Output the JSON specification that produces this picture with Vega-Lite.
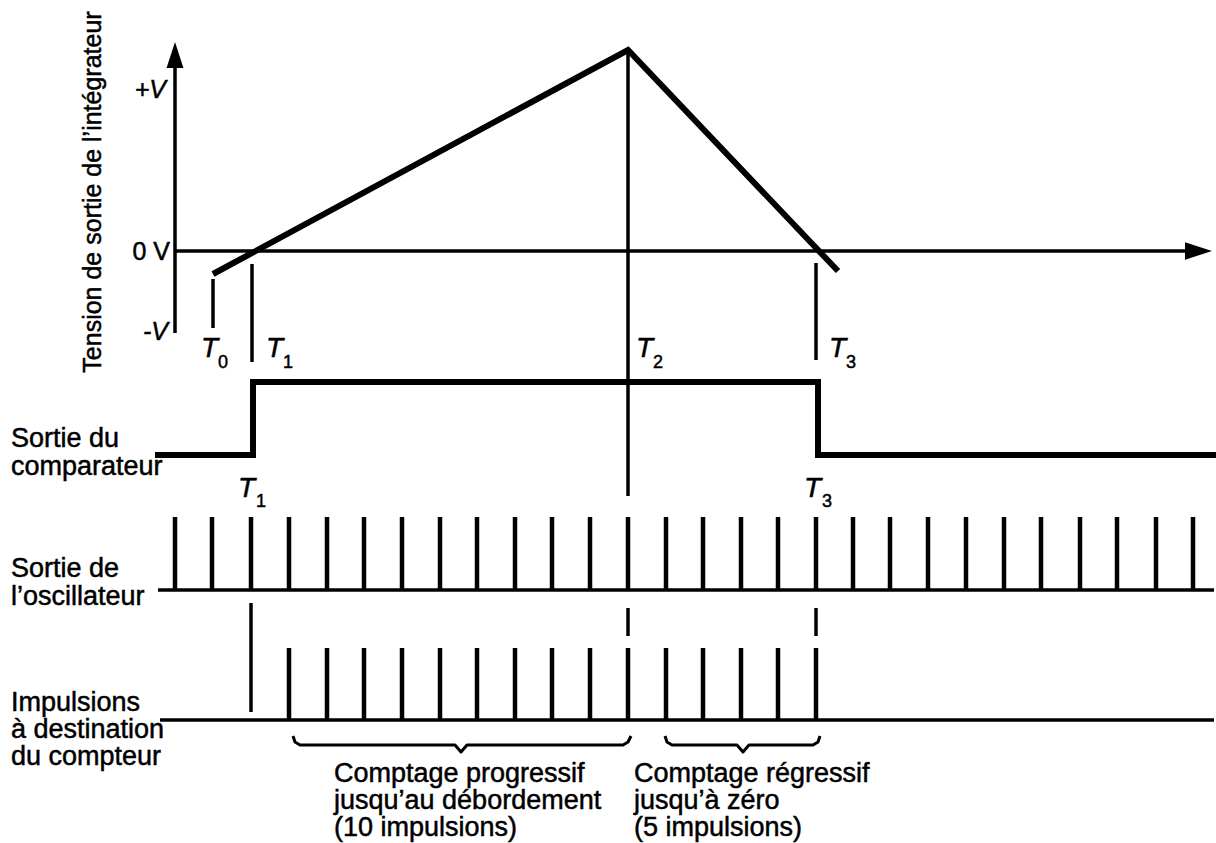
{
  "$schema": "https://vega.github.io/schema/vega-lite/v6.json",
  "width": 1216,
  "height": 843,
  "autosize": {"type": "none"},
  "padding": 0,
  "background": "white",
  "config": {"view": {"stroke": null}, "text": {"font": "Liberation Sans", "color": "black", "stroke": "black", "strokeWidth": 0.5}},
  "datasets": {
    "thin": [
      {"x": 175, "y": 64, "x2": 175, "y2": 333},
      {"x": 175, "y": 251, "x2": 1188, "y2": 251},
      {"x": 213, "y": 279, "x2": 213, "y2": 328},
      {"x": 252, "y": 264, "x2": 252, "y2": 362},
      {"x": 628, "y": 52, "x2": 628, "y2": 496},
      {"x": 816, "y": 263, "x2": 816, "y2": 360},
      {"x": 158, "y": 590, "x2": 1214, "y2": 590},
      {"x": 160, "y": 720, "x2": 1214, "y2": 720},
      {"x": 251, "y": 603, "x2": 251, "y2": 712},
      {"x": 628, "y": 608, "x2": 628, "y2": 636},
      {"x": 816, "y": 608, "x2": 816, "y2": 636}
    ],
    "pulses": [
      {"x": 175, "y": 590, "y2": 517}, {"x": 212, "y": 590, "y2": 517}, {"x": 251, "y": 590, "y2": 517},
      {"x": 289, "y": 590, "y2": 517}, {"x": 327, "y": 590, "y2": 517}, {"x": 364, "y": 590, "y2": 517},
      {"x": 402, "y": 590, "y2": 517}, {"x": 440, "y": 590, "y2": 517}, {"x": 477, "y": 590, "y2": 517},
      {"x": 515, "y": 590, "y2": 517}, {"x": 552, "y": 590, "y2": 517}, {"x": 590, "y": 590, "y2": 517},
      {"x": 628, "y": 590, "y2": 517}, {"x": 666, "y": 590, "y2": 517}, {"x": 703, "y": 590, "y2": 517},
      {"x": 741, "y": 590, "y2": 517}, {"x": 778, "y": 590, "y2": 517}, {"x": 816, "y": 590, "y2": 517},
      {"x": 853, "y": 590, "y2": 517}, {"x": 890, "y": 590, "y2": 517}, {"x": 928, "y": 590, "y2": 517},
      {"x": 966, "y": 590, "y2": 517}, {"x": 1004, "y": 590, "y2": 517}, {"x": 1041, "y": 590, "y2": 517},
      {"x": 1080, "y": 590, "y2": 517}, {"x": 1117, "y": 590, "y2": 517}, {"x": 1156, "y": 590, "y2": 517},
      {"x": 1193, "y": 590, "y2": 517},
      {"x": 289, "y": 720, "y2": 648}, {"x": 327, "y": 720, "y2": 648}, {"x": 364, "y": 720, "y2": 648},
      {"x": 402, "y": 720, "y2": 648}, {"x": 440, "y": 720, "y2": 648}, {"x": 477, "y": 720, "y2": 648},
      {"x": 515, "y": 720, "y2": 648}, {"x": 552, "y": 720, "y2": 648}, {"x": 590, "y": 720, "y2": 648},
      {"x": 628, "y": 720, "y2": 648}, {"x": 666, "y": 720, "y2": 648}, {"x": 703, "y": 720, "y2": 648},
      {"x": 741, "y": 720, "y2": 648}, {"x": 778, "y": 720, "y2": 648}, {"x": 816, "y": 720, "y2": 648}
    ],
    "thick": [
      {"path": "ramp", "i": 0, "x": 213, "y": 274},
      {"path": "ramp", "i": 1, "x": 628, "y": 50},
      {"path": "ramp", "i": 2, "x": 838, "y": 271},
      {"path": "comp", "i": 0, "x": 155, "y": 455},
      {"path": "comp", "i": 1, "x": 253, "y": 455},
      {"path": "comp", "i": 2, "x": 253, "y": 382},
      {"path": "comp", "i": 3, "x": 818, "y": 382},
      {"path": "comp", "i": 4, "x": 818, "y": 455},
      {"path": "comp", "i": 5, "x": 1216, "y": 455}
    ],
    "braces": [
      {"b": "b1", "i": 0, "x": 293, "y": 736}, {"b": "b1", "i": 1, "x": 295, "y": 742},
      {"b": "b1", "i": 2, "x": 300, "y": 745}, {"b": "b1", "i": 3, "x": 455, "y": 745},
      {"b": "b1", "i": 4, "x": 461, "y": 752}, {"b": "b1", "i": 5, "x": 467, "y": 745},
      {"b": "b1", "i": 6, "x": 623, "y": 745}, {"b": "b1", "i": 7, "x": 628, "y": 742},
      {"b": "b1", "i": 8, "x": 631, "y": 736},
      {"b": "b2", "i": 0, "x": 665, "y": 736}, {"b": "b2", "i": 1, "x": 667, "y": 742},
      {"b": "b2", "i": 2, "x": 672, "y": 745}, {"b": "b2", "i": 3, "x": 737, "y": 745},
      {"b": "b2", "i": 4, "x": 743, "y": 752}, {"b": "b2", "i": 5, "x": 749, "y": 745},
      {"b": "b2", "i": 6, "x": 813, "y": 745}, {"b": "b2", "i": 7, "x": 818, "y": 742},
      {"b": "b2", "i": 8, "x": 820, "y": 736}
    ],
    "arrowUp": [{"x": 175, "y": 55}],
    "arrowRight": [{"x": 1198.5, "y": 251}],
    "labels": [
      {"x": 11, "y": 447, "t": "Sortie du"},
      {"x": 11, "y": 475, "t": "comparateur"},
      {"x": 11, "y": 577, "t": "Sortie de"},
      {"x": 11, "y": 605, "t": "l’oscillateur"},
      {"x": 11, "y": 711, "t": "Impulsions"},
      {"x": 11, "y": 738, "t": "à destination"},
      {"x": 11, "y": 765, "t": "du compteur"},
      {"x": 334, "y": 782, "t": "Comptage progressif"},
      {"x": 334, "y": 809, "t": "jusqu’au débordement"},
      {"x": 334, "y": 836, "t": "(10 impulsions)"},
      {"x": 634, "y": 782, "t": "Comptage régressif"},
      {"x": 634, "y": 809, "t": "jusqu’à zéro"},
      {"x": 634, "y": 836, "t": "(5 impulsions)"}
    ],
    "vItalic": [
      {"x": 166, "y": 98, "t": "+V"},
      {"x": 168, "y": 340, "t": "-V"}
    ],
    "vUpright": [
      {"x": 170, "y": 260, "t": "0 V"}
    ],
    "tLetters": [
      {"x": 201, "y": 357, "t": "T"},
      {"x": 266, "y": 357, "t": "T"},
      {"x": 636, "y": 357, "t": "T"},
      {"x": 829, "y": 357, "t": "T"},
      {"x": 238, "y": 497, "t": "T"},
      {"x": 804, "y": 497, "t": "T"}
    ],
    "tSubs": [
      {"x": 218, "y": 368, "t": "0"},
      {"x": 283, "y": 368, "t": "1"},
      {"x": 653, "y": 368, "t": "2"},
      {"x": 846, "y": 368, "t": "3"},
      {"x": 256, "y": 507, "t": "1"},
      {"x": 822, "y": 507, "t": "3"}
    ],
    "title": [
      {"x": 93, "y": 192, "t": "Tension de sortie de l’intégrateur"}
    ]
  },
  "layer": [
    {
      "data": {"name": "thin"},
      "mark": {"type": "rule", "color": "black", "strokeWidth": 3.5, "strokeCap": "butt"},
      "encoding": {
        "x": {"field": "x", "type": "quantitative", "scale": {"domain": [0, 1216]}, "axis": null},
        "y": {"field": "y", "type": "quantitative", "scale": {"domain": [0, 843], "reverse": true}, "axis": null},
        "x2": {"field": "x2"},
        "y2": {"field": "y2"}
      }
    },
    {
      "data": {"name": "pulses"},
      "mark": {"type": "rule", "color": "black", "strokeWidth": 4.5, "strokeCap": "butt"},
      "encoding": {
        "x": {"field": "x", "type": "quantitative", "scale": {"domain": [0, 1216]}, "axis": null},
        "y": {"field": "y", "type": "quantitative", "scale": {"domain": [0, 843], "reverse": true}, "axis": null},
        "y2": {"field": "y2"}
      }
    },
    {
      "data": {"name": "thick"},
      "mark": {"type": "line", "color": "black", "strokeWidth": 6, "strokeCap": "butt", "strokeJoin": "miter"},
      "encoding": {
        "x": {"field": "x", "type": "quantitative", "scale": {"domain": [0, 1216]}, "axis": null},
        "y": {"field": "y", "type": "quantitative", "scale": {"domain": [0, 843], "reverse": true}, "axis": null},
        "detail": {"field": "path"},
        "order": {"field": "i", "type": "quantitative"}
      }
    },
    {
      "data": {"name": "braces"},
      "mark": {"type": "line", "color": "black", "strokeWidth": 3, "strokeCap": "butt", "strokeJoin": "round"},
      "encoding": {
        "x": {"field": "x", "type": "quantitative", "scale": {"domain": [0, 1216]}, "axis": null},
        "y": {"field": "y", "type": "quantitative", "scale": {"domain": [0, 843], "reverse": true}, "axis": null},
        "detail": {"field": "b"},
        "order": {"field": "i", "type": "quantitative"}
      }
    },
    {
      "data": {"name": "arrowUp"},
      "mark": {"type": "point", "shape": "M0,-1L0.65,1L-0.65,1Z", "filled": true, "color": "black", "opacity": 1, "size": 676},
      "encoding": {
        "x": {"field": "x", "type": "quantitative", "scale": {"domain": [0, 1216]}, "axis": null},
        "y": {"field": "y", "type": "quantitative", "scale": {"domain": [0, 843], "reverse": true}, "axis": null}
      }
    },
    {
      "data": {"name": "arrowRight"},
      "mark": {"type": "point", "shape": "M1,0L-1,0.65L-1,-0.65Z", "filled": true, "color": "black", "opacity": 1, "size": 729},
      "encoding": {
        "x": {"field": "x", "type": "quantitative", "scale": {"domain": [0, 1216]}, "axis": null},
        "y": {"field": "y", "type": "quantitative", "scale": {"domain": [0, 843], "reverse": true}, "axis": null}
      }
    },
    {
      "data": {"name": "labels"},
      "mark": {"type": "text", "align": "left", "baseline": "alphabetic", "fontSize": 27},
      "encoding": {
        "x": {"field": "x", "type": "quantitative", "scale": {"domain": [0, 1216]}, "axis": null},
        "y": {"field": "y", "type": "quantitative", "scale": {"domain": [0, 843], "reverse": true}, "axis": null},
        "text": {"field": "t"}
      }
    },
    {
      "data": {"name": "vItalic"},
      "mark": {"type": "text", "align": "right", "baseline": "alphabetic", "fontSize": 25, "fontStyle": "italic"},
      "encoding": {
        "x": {"field": "x", "type": "quantitative", "scale": {"domain": [0, 1216]}, "axis": null},
        "y": {"field": "y", "type": "quantitative", "scale": {"domain": [0, 843], "reverse": true}, "axis": null},
        "text": {"field": "t"}
      }
    },
    {
      "data": {"name": "vUpright"},
      "mark": {"type": "text", "align": "right", "baseline": "alphabetic", "fontSize": 25},
      "encoding": {
        "x": {"field": "x", "type": "quantitative", "scale": {"domain": [0, 1216]}, "axis": null},
        "y": {"field": "y", "type": "quantitative", "scale": {"domain": [0, 843], "reverse": true}, "axis": null},
        "text": {"field": "t"}
      }
    },
    {
      "data": {"name": "tLetters"},
      "mark": {"type": "text", "align": "left", "baseline": "alphabetic", "fontSize": 28, "fontStyle": "italic"},
      "encoding": {
        "x": {"field": "x", "type": "quantitative", "scale": {"domain": [0, 1216]}, "axis": null},
        "y": {"field": "y", "type": "quantitative", "scale": {"domain": [0, 843], "reverse": true}, "axis": null},
        "text": {"field": "t"}
      }
    },
    {
      "data": {"name": "tSubs"},
      "mark": {"type": "text", "align": "left", "baseline": "alphabetic", "fontSize": 18},
      "encoding": {
        "x": {"field": "x", "type": "quantitative", "scale": {"domain": [0, 1216]}, "axis": null},
        "y": {"field": "y", "type": "quantitative", "scale": {"domain": [0, 843], "reverse": true}, "axis": null},
        "text": {"field": "t"}
      }
    },
    {
      "data": {"name": "title"},
      "mark": {"type": "text", "align": "center", "baseline": "middle", "fontSize": 25, "angle": 270},
      "encoding": {
        "x": {"field": "x", "type": "quantitative", "scale": {"domain": [0, 1216]}, "axis": null},
        "y": {"field": "y", "type": "quantitative", "scale": {"domain": [0, 843], "reverse": true}, "axis": null},
        "text": {"field": "t"}
      }
    }
  ]
}
